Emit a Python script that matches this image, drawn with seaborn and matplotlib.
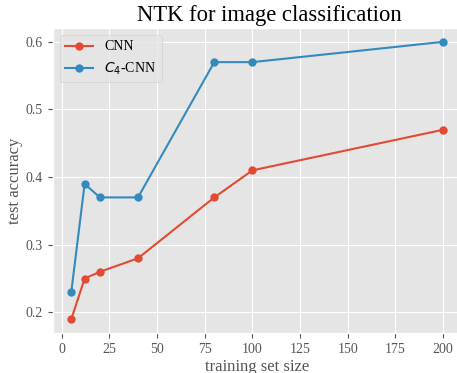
import numpy as np
import pandas as pd
import matplotlib
matplotlib.use("Agg")
import matplotlib.pyplot as plt
import seaborn as sns

# -- data -------------------------------------------------------------
train_sizes = [5, 12, 20, 40, 80, 100, 200]
acc_cnn = [0.19, 0.25, 0.26, 0.28, 0.37, 0.41, 0.47]
acc_c4cnn = [0.23, 0.39, 0.37, 0.37, 0.57, 0.57, 0.60]
model_names = ["CNN", r"$C_4$-CNN"]

df = pd.DataFrame({
    "size": train_sizes * 2,
    "acc": acc_cnn + acc_c4cnn,
    "model": [model_names[0]] * len(train_sizes) + [model_names[1]] * len(train_sizes),
})

plt.style.use("ggplot")
plt.rcParams["font.family"] = ["Liberation Serif", "DejaVu Serif"]

fig = plt.figure(figsize=(4.57, 3.73), dpi=100)
# original figure was cropped on the right, so the axes run past the edge
ax = fig.add_axes([0.1153, 0.1072, 0.895, 0.8178])
sns.lineplot(
    data=df, x="size", y="acc", hue="model", marker="o",
    palette=["#E24A33", "#348ABD"], markersize=6, markeredgewidth=0,
    linewidth=1.5, ax=ax,
)

ax.set_title("NTK for image classification", fontsize=16.3, color="black",
             pad=5, x=0.53)
ax.set_xlabel("training set size", fontsize=12, labelpad=2)
ax.set_ylabel("test accuracy", fontsize=12, labelpad=2)
ax.set_xticks([0, 25, 50, 75, 100, 125, 150, 175, 200])
ax.set_yticks([0.2, 0.3, 0.4, 0.5, 0.6])
ax.tick_params(labelsize=10)
ax.legend(loc="upper left", fontsize=10, title=None)

plt.savefig("out.png", dpi=100)
plt.close()
